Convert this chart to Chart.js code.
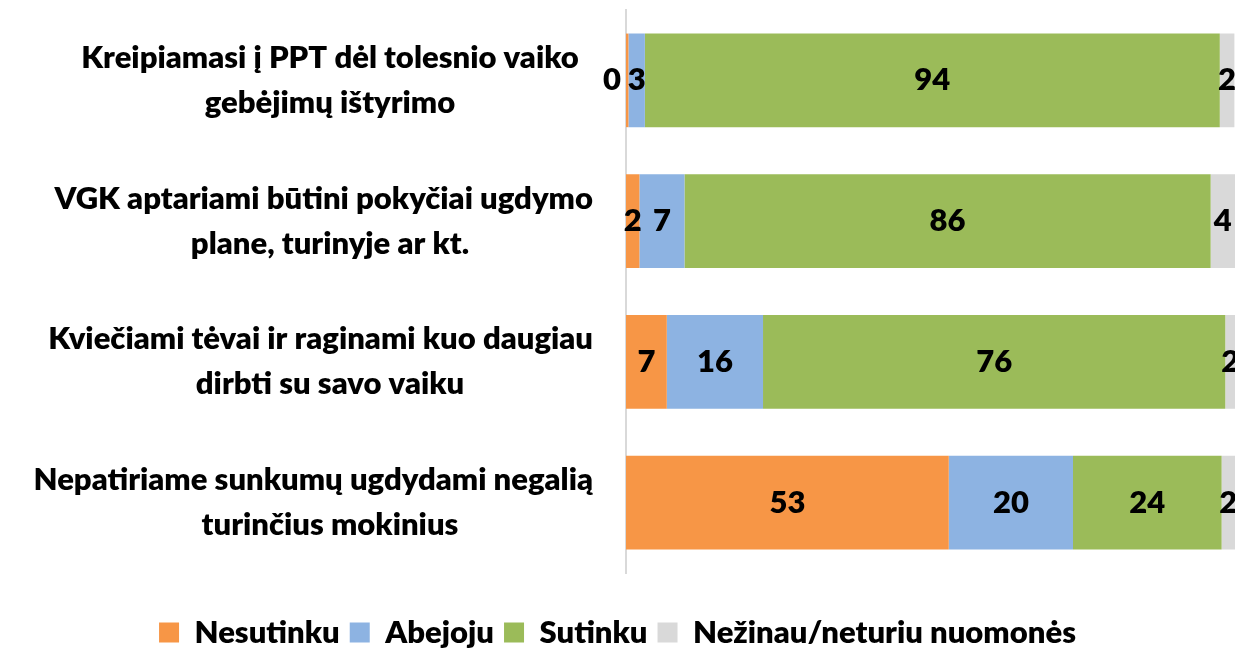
<!DOCTYPE html>
<html>
<head>
<meta charset="utf-8">
<script src="https://cdn.jsdelivr.net/npm/chart.js@4.4.1/dist/chart.umd.min.js"></script>
<style>
  html, body { margin: 0; padding: 0; background: #fff; overflow: hidden; }
  #wrap { position: relative; width: 1235px; height: 648px; }
</style>
</head>
<body>
<div id="wrap"><canvas id="chart" width="1235" height="648"></canvas></div>
<script>
/* Stacked horizontal bars: survey answers (%) */

const categories = [
  ["Kreipiamasi į PPT dėl tolesnio vaiko", "gebėjimų ištyrimo"],
  ["VGK aptariami būtini pokyčiai ugdymo", "plane, turinyje ar kt."],
  ["Kviečiami tėvai ir raginami kuo daugiau", "dirbti su savo vaiku"],
  ["Nepatiriame sunkumų ugdydami negalią", "turinčius mokinius"],
];
const nesutinku = [0.4, 2.2, 6.7, 53];
const abejoju = [2.7, 7.4, 15.8, 20.4];
const sutinku = [94.4, 86.4, 75.9, 24.4];
const nezinau = [2.4, 4.0, 1.6, 2.2];

const COLORS = {
  orange: "#F79646",
  blue: "#8DB3E2",
  green: "#9BBB59",
  grey: "#D9D9D9",
  axis: "#D9D9D9",
};
const FONT = "Lato, 'Open Sans', sans-serif";
const FS = 31;
const FW = 800;

const labelsPlugin = {
  id: "segLabels",
  afterDatasetsDraw(chart) {
    const { ctx } = chart;
    ctx.save();
    ctx.font = `${FW} ${FS}px ${FONT}`;
    ctx.fillStyle = "#000";
    ctx.textBaseline = "middle";
    chart.data.datasets.forEach((ds, di) => {
      const meta = chart.getDatasetMeta(di);
      meta.data.forEach((bar, i) => {
        const txt = String(Math.round(ds.data[i]));
        const w = Math.abs(bar.x - bar.base);
        if (w < 8) {
          ctx.textAlign = "right";
          ctx.fillText(txt, Math.min(bar.x, bar.base) - 5, bar.y);
        } else {
          ctx.textAlign = "center";
          ctx.fillText(txt, (bar.x + bar.base) / 2, bar.y);
        }
      });
    });
    ctx.restore();
  },
};

const catLabelsPlugin = {
  id: "catLabels",
  afterDraw(chart) {
    const { ctx } = chart;
    const y = chart.scales.y;
    const right = chart.chartArea.left - 33;
    const cx = 330;
    ctx.save();
    ctx.font = `${FW} ${FS}px ${FONT}`;
    ctx.fillStyle = "#000";
    ctx.textBaseline = "middle";
    ctx.textAlign = "center";
    categories.forEach((lines, i) => {
      const yc = y.getPixelForValue(i);
      const w1 = ctx.measureText(lines[0]).width;
      const x1 = Math.min(cx + w1 / 2, right) - w1 / 2;
      ctx.fillText(lines[0], x1, yc - 22.5);
      ctx.fillText(lines[1], cx, yc + 22.5);
    });
    ctx.restore();
  },
};

const barStyle = { categoryPercentage: 0.665, barPercentage: 1, borderWidth: 0 };

new Chart(document.getElementById("chart"), {
  type: "bar",
  data: {
    labels: categories,
    datasets: [
      { label: "Nesutinku", data: nesutinku, backgroundColor: COLORS.orange, ...barStyle },
      { label: "Abejoju", data: abejoju, backgroundColor: COLORS.blue, ...barStyle },
      { label: "Sutinku", data: sutinku, backgroundColor: COLORS.green, ...barStyle },
      { label: "Nežinau/neturiu nuomonės", data: nezinau, backgroundColor: COLORS.grey, ...barStyle },
    ],
  },
  options: {
    indexAxis: "y",
    responsive: false,
    animation: false,
    devicePixelRatio: 1,
    layout: { padding: { top: 10, right: 0, bottom: -10, left: 0 } },
    plugins: {
      legend: {
        position: "bottom",
        labels: {
          boxWidth: 20,
          boxHeight: 20,
          padding: 10,
          color: "#000",
          font: { family: FONT, size: FS, weight: FW },
        },
      },
      tooltip: { enabled: false },
    },
    scales: {
      x: {
        stacked: true,
        min: 0,
        max: 100,
        grid: { display: false },
        border: { display: false },
        ticks: { display: false },
        afterFit: (s) => { s.height = 34; },
      },
      y: {
        stacked: true,
        grid: { display: false },
        border: { color: COLORS.axis, width: 2 },
        ticks: { display: false },
        afterFit: (s) => { s.width = 626; },
      },
    },
  },
  plugins: [labelsPlugin, catLabelsPlugin],
});
</script>
</body>
</html>
